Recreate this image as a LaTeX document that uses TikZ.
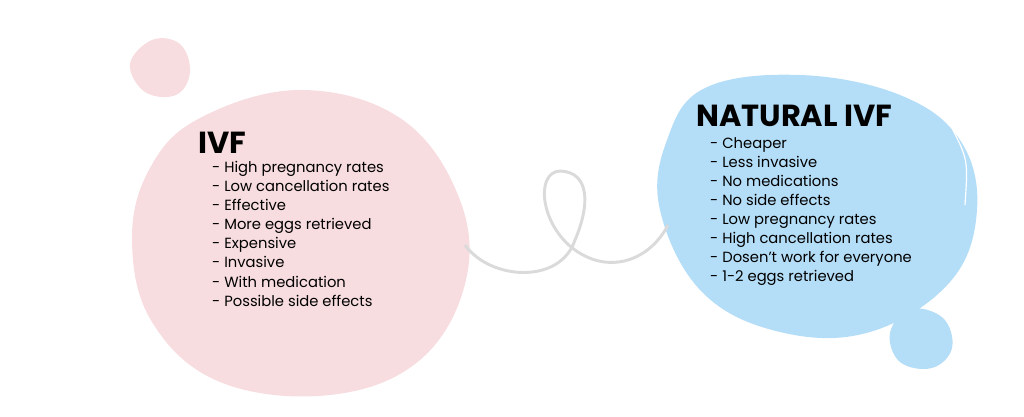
\documentclass[tikz,border=0pt]{standalone}
\usepackage{fontspec}
\setmainfont{Poppins}
\usetikzlibrary{positioning}
\definecolor{ivfpink}{RGB}{248,221,224}
\definecolor{natblue}{RGB}{180,221,247}
\definecolor{loopgray}{RGB}{218,218,218}
\tikzset{
  blob/.style={smooth cycle, tension=0.65},
  title/.style={anchor=base west, inner sep=0pt, font=\fontsize{26}{30}\selectfont\bfseries},
  items/.style={anchor=north west, inner sep=0pt, align=left, font=\fontsize{12.6}{16.3}\selectfont}
}
\begin{document}
\begin{tikzpicture}[x=0.03cm, y=-0.03cm]
    \useasboundingbox (0,0) rectangle (1024,417);
    % pink blobs
    \fill[ivfpink] plot[blob] coordinates {(200,118) (300,90) (400,118) (458,195) (466,280) (420,360) (330,395) (220,382) (152,322) (132,240) (150,168)};
    \fill[ivfpink] plot[blob] coordinates {(152,40) (180,44) (190,72) (176,95) (145,92) (130,64)};
    % blue blobs
    \fill[natblue] plot[blob] coordinates {(705,88) (800,75) (900,95) (960,140) (977,210) (950,282) (870,332) (780,332) (702,292) (660,210) (667,140)};
    \fill[natblue] plot[blob] coordinates {(910,309) (943,318) (952,348) (932,368) (900,362) (890,333)};
    \draw[white, line width=1pt] (952,128) .. controls (968,160) .. (965,205);
    % connector loop
    \coordinate (lstart) at (465,245);
    \coordinate (lend) at (668,225);
    \draw[loopgray, line width=2.5pt] (lstart) .. controls (490,280) and (560,285) .. (575,240)
        .. controls (590,205) and (590,172) .. (560,171)
        .. controls (535,172) and (540,225) .. (575,250)
        .. controls (610,275) and (650,260) .. (lend);
    % texts
    \node[title] (ivf) at (198,153) {IVF};
    \node[items] (ivflist) at (212,161) {- High pregnancy rates\\- Low cancellation rates\\- Effective\\- More eggs retrieved\\- Expensive\\- Invasive\\- With medication\\- Possible side effects};
    \node[title] (nat) at (696,126) {NATURAL IVF};
    \node[items] (natlist) at (710,137) {- Cheaper\\- Less invasive\\- No medications\\- No side effects\\- Low pregnancy rates\\- High cancellation rates\\- Dosen’t work for everyone\\- 1-2 eggs retrieved};
\end{tikzpicture}
\end{document}
